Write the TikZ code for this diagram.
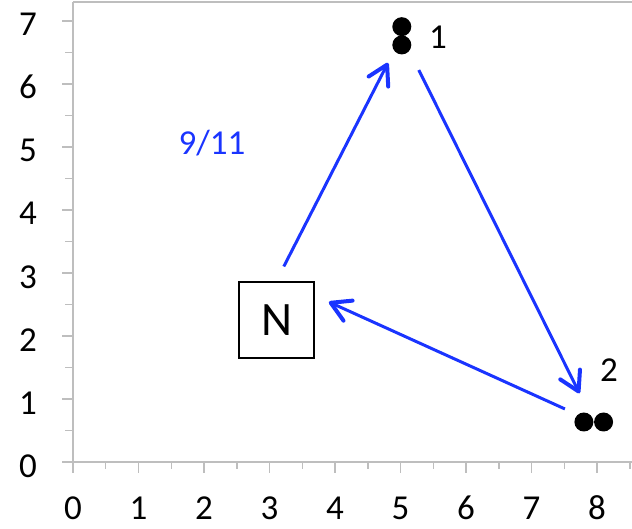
\documentclass[tikz,border=0pt]{standalone}
\usepackage{fontspec}
\setmainfont{Carlito}
\usepackage{tikz}
\usetikzlibrary{positioning,fit,arrows.meta}

\definecolor{flowblue}{RGB}{26,52,255}
\definecolor{axisgray}{RGB}{190,190,190}

\begin{document}
\begin{tikzpicture}[
    x=65.5pt, y=63pt,
    every node/.style={font=\fontsize{35}{40}\selectfont},
    axis/.style={draw=axisgray, line width=2pt},
    tick/.style={draw=axisgray, line width=1.5pt},
    ticklabel/.style={inner sep=0pt},
    dot/.style={circle, fill=black, inner sep=0pt, minimum size=19pt},
    pair/.style={inner sep=0pt},
    box/.style={rectangle, draw, line width=2.5pt, minimum width=75pt, minimum height=76pt, font=\fontsize{48}{52}\selectfont},
    flow/.style={draw=flowblue, line width=3pt, -{Straight Barb[length=19pt,width=22pt,line width=4pt,round]}}
]
\useasboundingbox (-73pt,-66pt) rectangle (559pt,462pt);

% Axes
\draw[axis] (0,7.294) -- (0,0) -- (8.54,0);
\draw[axis] (0,7.294) -- (8.54,7.294);
\foreach \i in {0,...,7}
    \draw[tick] (0,\i) -- ++(-11pt,0) node[ticklabel, anchor=base east, xshift=-24.5pt, yshift=-15pt] {\i};
\foreach \i in {0.5,1.5,...,6.5}
    \draw[tick] (0,\i) -- ++(-8pt,0);
\foreach \i in {0,...,8}
    \draw[tick] (\i,0) -- ++(0,-11pt) node[ticklabel, anchor=base, yshift=-46pt] {\i};
\foreach \i in {0.5,1.5,...,8.5}
    \draw[tick] (\i,0) -- ++(0,-7pt);

% Points
\node[box] (N) at (3.107,2.254) {N};
\node[dot] (p1a) at (5.02,6.91) {};
\node[dot] (p1b) at (5.02,6.62) {};
\node[pair, fit=(p1a)(p1b)] (p1) {};
\node[dot] (p2a) at (7.80,0.635) {};
\node[dot] (p2b) at (8.10,0.635) {};
\node[pair, fit=(p2a)(p2b)] (p2) {};

% Labels
\node[anchor=base] (lab1) at (5.573,6.567) {1};
\node[anchor=base] (lab2) at (8.183,1.275) {2};
\node[anchor=base, text=flowblue] (ratio) at (2.122,4.873) {9/11};

% Moves
\draw[flow, shorten <=16pt, shorten >=9pt] (N.north) -- (p1);
\draw[flow, shorten <=17pt, shorten >=21pt] (p1) -- (p2);
\draw[flow, shorten <=10pt, shorten >=15pt] (p2) -- (N.32);

\end{tikzpicture}
\end{document}
